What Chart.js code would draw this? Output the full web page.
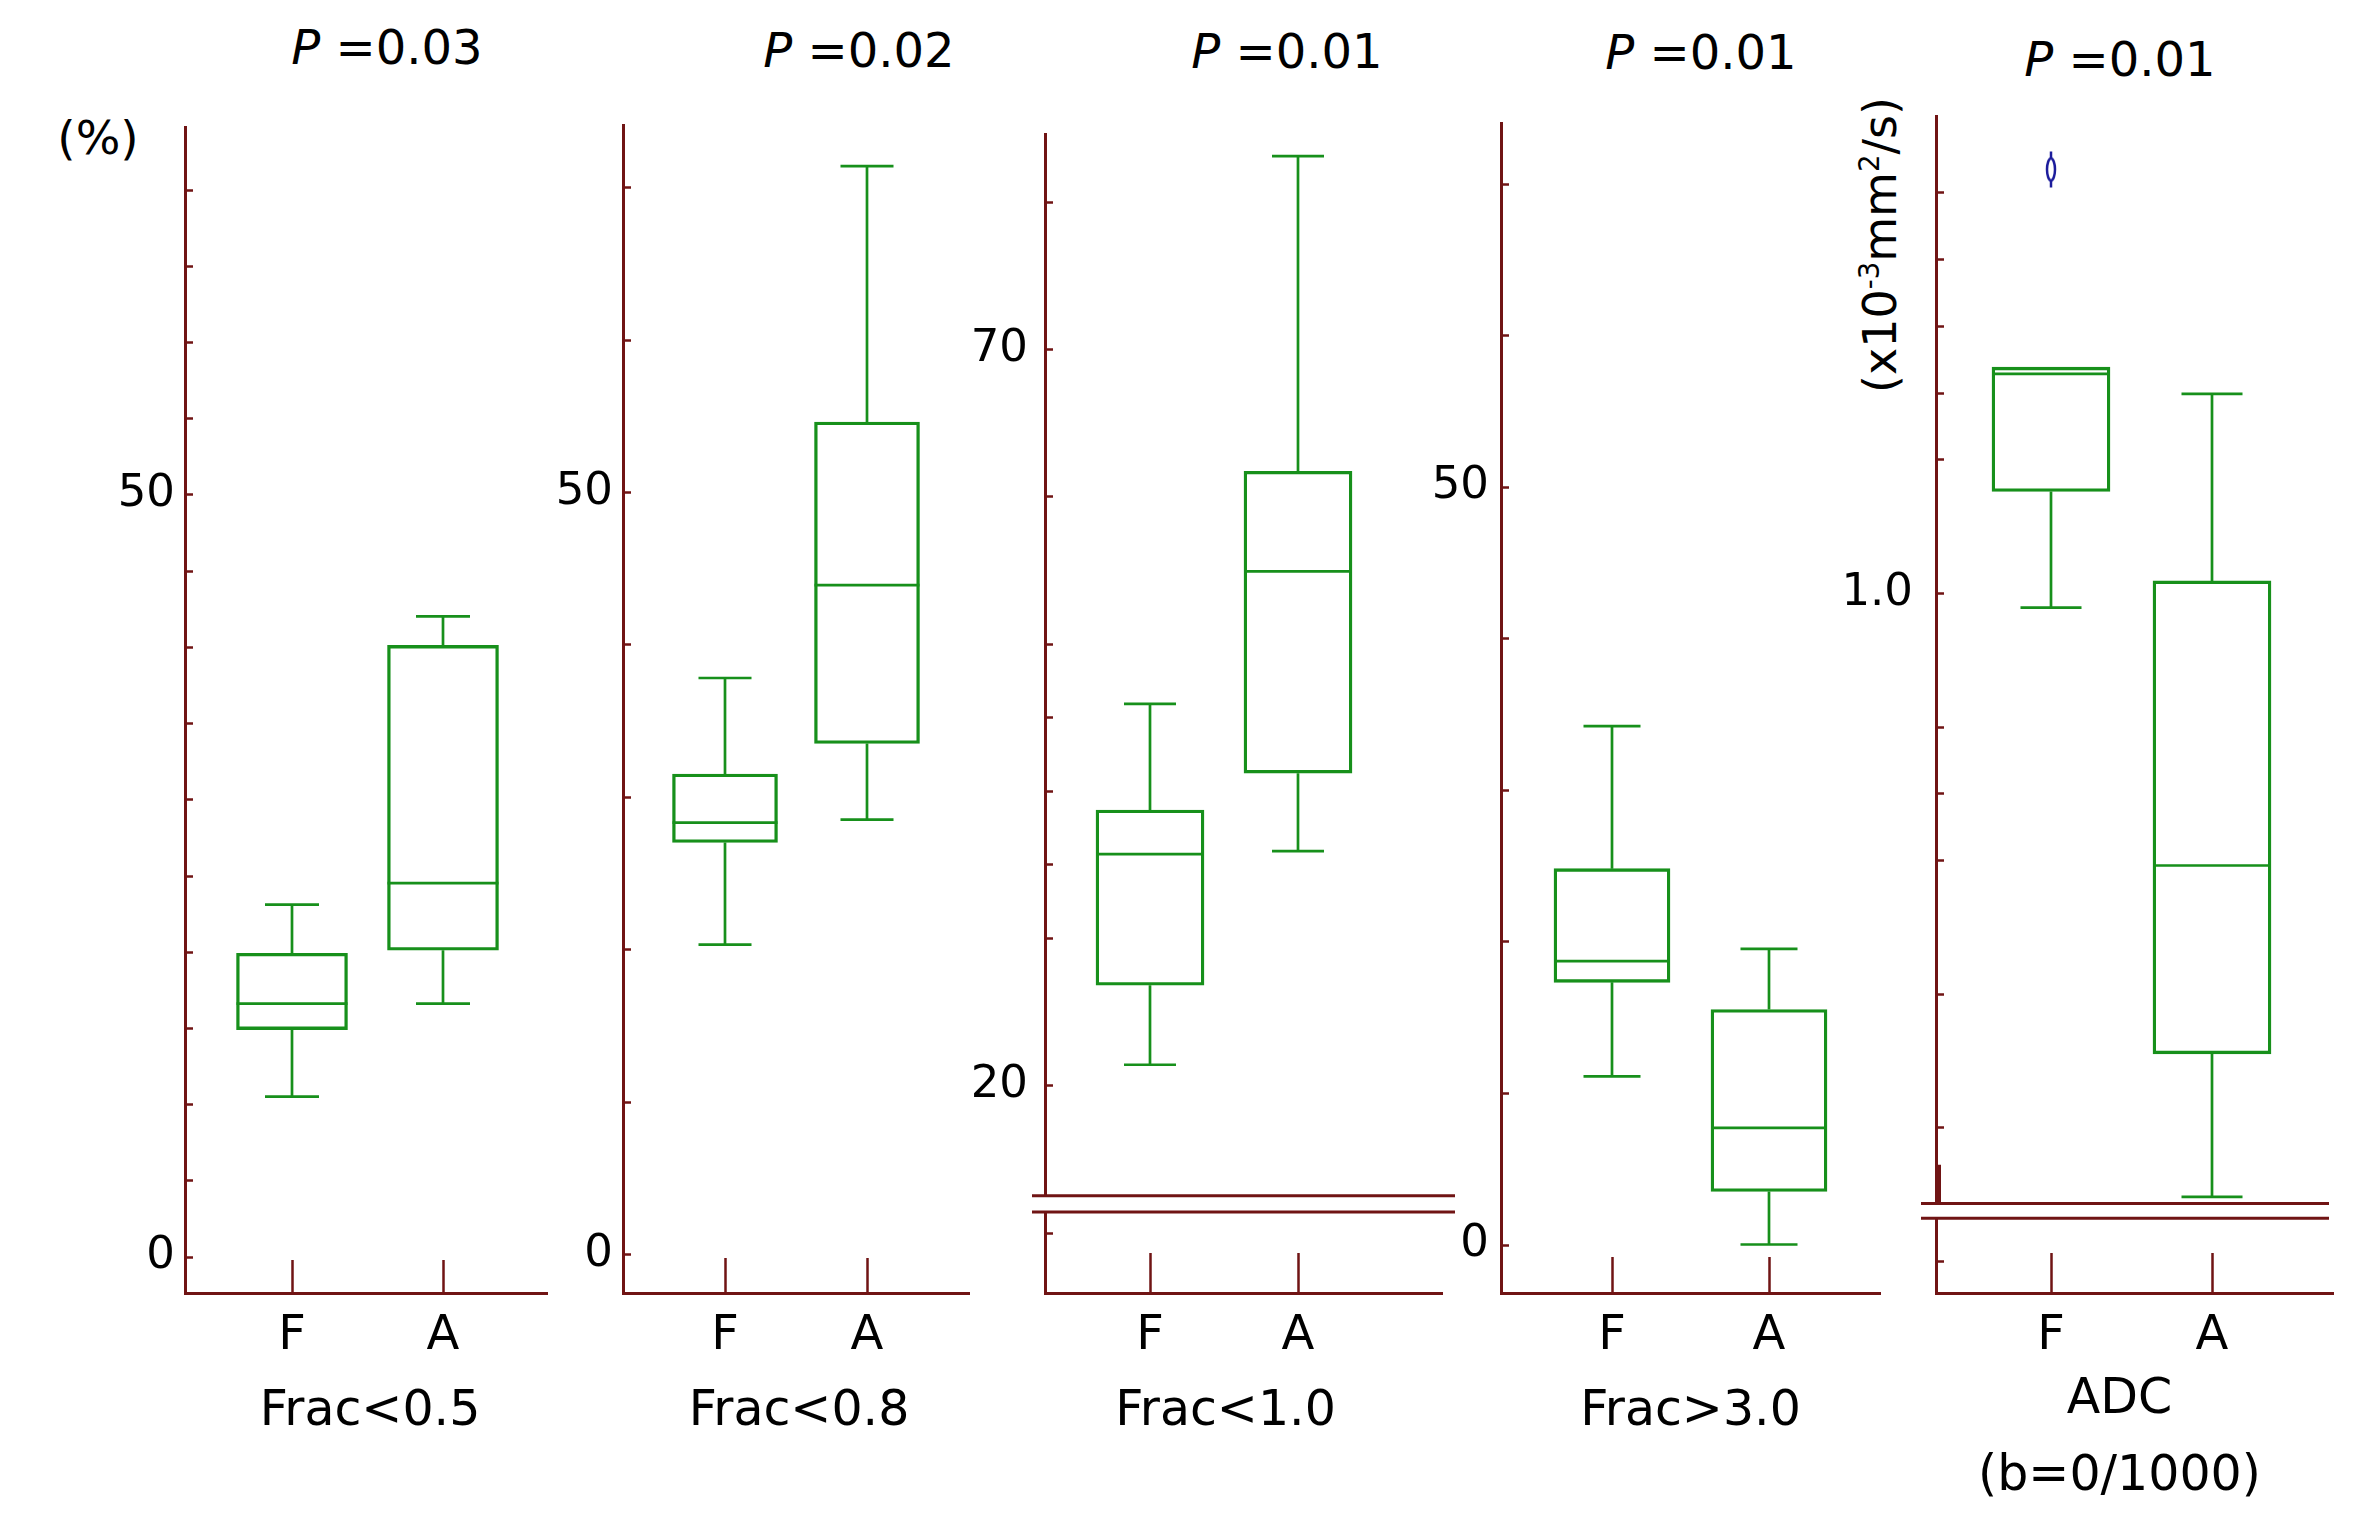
<!DOCTYPE html>
<html>
<head>
<meta charset="utf-8">
<script src="https://cdn.jsdelivr.net/npm/chart.js@4.4.0/dist/chart.umd.min.js"></script>
<style>
html, body { margin: 0; padding: 0; background: #fff; }
#wrap { position: relative; width: 2362px; height: 1531px; overflow: hidden;
        font-family: "DejaVu Sans", Verdana, sans-serif; color: #000; }
#wrap canvas { position: absolute; top: 0; }
.lbl { position: absolute; font-size: 48px; line-height: 1; white-space: nowrap;
       transform: translate(-50%, -50%); }
.rot { transform: translate(-50%, -50%) rotate(-90deg); font-size: 46px; }
.rot sup { font-size: 0.6em; vertical-align: 0.6em; line-height: 0; }
</style>
</head>
<body>
<div id="wrap">
  <div class="lbl" style="left:387px;top:47px"><i>P</i> =0.03</div>
  <div class="lbl" style="left:859px;top:50px"><i>P</i> =0.02</div>
  <div class="lbl" style="left:1287px;top:51px"><i>P</i> =0.01</div>
  <div class="lbl" style="left:1701px;top:52px"><i>P</i> =0.01</div>
  <div class="lbl" style="left:2120px;top:59px"><i>P</i> =0.01</div>
  <div class="lbl" style="left:98px;top:137px;font-size:47px">(%)</div>
  <div class="lbl rot" style="left:1880px;top:245px">(x10<sup>-3</sup>mm<sup>2</sup>/s)</div>
</div>
<script>
// groups on every x axis
const groups = ['F', 'A'];
const panelTitles = ['Frac<0.5', 'Frac<0.8', 'Frac<1.0', 'Frac>3.0', ['ADC', '(b=0/1000)']];

// box stats: [min, Q1, median, Q3, max]
const frac05F = [10.5, 14.9, 16.6, 19.9, 23.1];
const frac05A = [16.6, 20.1, 24.5, 40.1, 42.0];
const frac08F = [20.3, 27.0, 28.3, 31.5, 37.8];
const frac08A = [28.5, 33.5, 43.9, 54.6, 71.4];
const frac10F = [21.4, 26.8, 35.7, 38.7, 45.9];
const frac10A = [35.9, 41.2, 54.9, 61.7, 83.1];
const frac30F = [11.1, 17.3, 18.7, 24.8, 34.2];
const frac30A = [0.0, 3.5, 7.7, 15.5, 19.5];
const adcF = [0.989, 1.076, 1.164, 1.169, 1.169];
const adcA = [0.548, 0.655, 0.796, 1.009, 1.149];
const adcOutliersF = [1.317];

// y ticks and the ones that carry a label
const ticks05 = [0, 5, 10, 15, 20, 25, 30, 35, 40, 45, 50, 55, 60, 65, 70];
const labels05 = ['0', '50'];
const ticks08 = [0, 10, 20, 30, 40, 50, 60, 70];
const labels08 = ['0', '50'];
const ticks10 = [10, 20, 30, 35, 40, 45, 50, 60, 70, 80];
const labels10 = ['20', '70'];
const ticks30 = [0, 10, 20, 30, 40, 50, 60, 70];
const labels30 = ['0', '50'];
const ticksAdc = [0.5, 0.6, 0.7, 0.8, 0.85, 0.9, 1.0, 1.1, 1.15, 1.2, 1.25, 1.3];
const labelsAdc = ['1.0'];

const AXIS = '#701414';
const GREEN = '#17901b';
const FONT = '"DejaVu Sans", Verdana, sans-serif';

const panels = [
  { stats: [frac05F, frac05A], out: [[], []], ticks: ticks05, labels: labels05, yMin: -2.38, yMax: 74.1,
    axisX: 185, right: 547, top: 127, fx: 292, ax: 443, box: 111, cap: 54, lblPad: 10, xTick: 33,
    titleShift: 4, breaks: null },
  { stats: [frac08F, frac08A], out: [[], []], ticks: ticks08, labels: labels08, yMin: -2.57, yMax: 74.1,
    axisX: 623, right: 969, top: 125, fx: 725, ax: 867, box: 105, cap: 53, lblPad: 10, xTick: 35,
    titleShift: 3, breaks: null },
  { stats: [frac10F, frac10A], out: [[], []], ticks: ticks10, labels: labels10, yMin: 5.9, yMax: 84.6,
    axisX: 1045, right: 1442, top: 134, fx: 1150, ax: 1298, box: 108, cap: 52, lblPad: 17, xTick: 40,
    titleShift: -18, breaks: [12.5, 11.4], breakL: 13, breakR: 13 },
  { stats: [frac30F, frac30A], out: [[], []], ticks: ticks30, labels: labels30, yMin: -3.2, yMax: 74.0,
    axisX: 1501, right: 1880, top: 123, fx: 1612, ax: 1769, box: 116, cap: 57, lblPad: 12, xTick: 36,
    titleShift: 0, breaks: null },
  { stats: [adcF, adcA], out: [adcOutliersF, []], ticks: ticksAdc, labels: labelsAdc, yMin: 0.476, yMax: 1.357,
    axisX: 1936, right: 2333, top: 116, fx: 2051, ax: 2212, box: 118, cap: 61, lblPad: 23, xTick: 40,
    titleShift: -15, breaks: [0.543, 0.532], breakL: 15, breakR: -4, stub: 0.572 }
];

const Y_W = 110;      // width kept for the y tick labels
const X_H = 238;      // height below the x axis line
const PAD_R = 20;

function outlierGlyph() {
  const c = document.createElement('canvas');
  c.width = 14; c.height = 40;
  const g = c.getContext('2d');
  g.strokeStyle = '#1c1c9c';
  g.lineWidth = 2.5;
  g.beginPath(); g.ellipse(7, 20, 4, 11, 0, 0, Math.PI * 2); g.stroke();
  g.beginPath(); g.moveTo(7, 2); g.lineTo(7, 9); g.moveTo(7, 31); g.lineTo(7, 38); g.stroke();
  return c;
}
const glyph = outlierGlyph();

// whiskers, medians, inward ticks, axis breaks and the x titles
const boxParts = {
  id: 'boxParts',
  afterDatasetsDraw(chart) {
    const p = chart.options.plugins.boxParts;
    const ys = chart.scales.y;
    const bars = chart.getDatasetMeta(0).data;
    const ctx = chart.ctx;
    ctx.save();
    ctx.strokeStyle = GREEN;
    ctx.lineWidth = 2.7;
    ctx.beginPath();
    p.stats.forEach((s, i) => {
      const bar = bars[i];
      const cx = bar.x, hw = bar.width / 2, hc = p.cap / 2;
      const yMed = ys.getPixelForValue(s[2]);
      ctx.moveTo(cx - hw, yMed); ctx.lineTo(cx + hw, yMed);
      if (s[4] > s[3]) {
        const y3 = ys.getPixelForValue(s[3]), y4 = ys.getPixelForValue(s[4]);
        ctx.moveTo(cx, y3); ctx.lineTo(cx, y4);
        ctx.moveTo(cx - hc, y4); ctx.lineTo(cx + hc, y4);
      }
      if (s[0] < s[1]) {
        const y1 = ys.getPixelForValue(s[1]), y0 = ys.getPixelForValue(s[0]);
        ctx.moveTo(cx, y1); ctx.lineTo(cx, y0);
        ctx.moveTo(cx - hc, y0); ctx.lineTo(cx + hc, y0);
      }
    });
    ctx.stroke();
    ctx.restore();
  },
  afterDraw(chart) {
    const p = chart.options.plugins.boxParts;
    const {ctx, chartArea: a} = chart;
    const xs = chart.scales.x, ys = chart.scales.y;
    ctx.save();
    ctx.strokeStyle = AXIS;
    ctx.lineWidth = 2.5;
    ctx.beginPath();
    ys.ticks.forEach(t => {
      const py = Math.round(ys.getPixelForValue(t.value)) + 0.5;
      ctx.moveTo(a.left, py); ctx.lineTo(a.left + 8, py);
    });
    xs.ticks.forEach(t => {
      const px = Math.round(xs.getPixelForValue(t.value)) + 0.5;
      ctx.moveTo(px, a.bottom); ctx.lineTo(px, a.bottom - p.xTick);
    });
    ctx.stroke();
    if (p.breaks) {
      const y1 = ys.getPixelForValue(p.breaks[0]);
      const y2 = ys.getPixelForValue(p.breaks[1]);
      ctx.fillStyle = '#fff';
      ctx.fillRect(a.left - 4, y1, 8, y2 - y1);
      ctx.lineWidth = 3;
      ctx.beginPath();
      ctx.moveTo(a.left - p.breakL, y1); ctx.lineTo(a.right + p.breakR, y1);
      ctx.moveTo(a.left - p.breakL, y2); ctx.lineTo(a.right + p.breakR, y2);
      ctx.stroke();
      if (p.stub) {
        ctx.lineWidth = 4;
        ctx.beginPath();
        ctx.moveTo(a.left + 3, ys.getPixelForValue(p.stub));
        ctx.lineTo(a.left + 3, y1);
        ctx.stroke();
      }
    }
    // x title under the group labels
    const lines = Array.isArray(p.title) ? p.title : [p.title];
    const cx = (a.left + a.right) / 2 + p.titleShift;
    ctx.fillStyle = '#000';
    ctx.font = '49px ' + FONT;
    ctx.textAlign = 'center';
    ctx.textBaseline = 'middle';
    if (lines.length === 1) {
      ctx.fillText(lines[0], cx, 1412);
    } else {
      ctx.fillText(lines[0], cx, 1400);
      ctx.fillText(lines[1], cx, 1477);
    }
    ctx.restore();
  }
};

const wrap = document.getElementById('wrap');

panels.forEach((g, k) => {
  const left = g.axisX - Y_W;
  const width = g.right - left + PAD_R;
  const canvas = document.createElement('canvas');
  canvas.width = width;
  canvas.height = 1531;
  canvas.style.left = left + 'px';
  canvas.style.width = width + 'px';
  canvas.style.height = '1531px';
  wrap.appendChild(canvas);

  const unit = g.ax - g.fx;
  const xMin = 1 - (g.fx - g.axisX) / unit;
  const xMax = xMin + (g.right - g.axisX) / unit;

  const datasets = [{
    type: 'bar',
    data: g.stats.map((s, i) => ({ x: i + 1, y: [s[1], s[3]] })),
    backgroundColor: 'rgba(0,0,0,0)',
    borderColor: GREEN,
    borderWidth: 2.7,
    borderSkipped: false,
    barThickness: g.box
  }];
  const outPts = [];
  g.out.forEach((list, i) => list.forEach(v => outPts.push({ x: i + 1, y: v })));
  if (outPts.length) {
    datasets.push({
      type: 'line',
      data: outPts,
      showLine: false,
      pointStyle: glyph,
      pointRadius: 10,
      borderColor: '#1c1c9c'
    });
  }

  new Chart(canvas.getContext('2d'), {
    type: 'bar',
    data: { datasets: datasets },
    plugins: [boxParts],
    options: {
      responsive: false,
      devicePixelRatio: 1,
      animation: false,
      layout: { padding: { top: g.top, left: 0, right: PAD_R, bottom: 0 } },
      plugins: {
        legend: { display: false },
        tooltip: { enabled: false },
        boxParts: { stats: g.stats, cap: g.cap, xTick: g.xTick, breaks: g.breaks,
                    breakL: g.breakL, breakR: g.breakR, stub: g.stub,
                    title: panelTitles[k], titleShift: g.titleShift }
      },
      scales: {
        x: {
          type: 'linear',
          bounds: 'data',
          offset: false,
          min: xMin,
          max: xMax,
          afterBuildTicks: axis => { axis.ticks = groups.map((_, i) => ({ value: i + 1 })); },
          afterFit: axis => { axis.height = X_H; },
          ticks: {
            autoSkip: false,
            maxRotation: 0,
            padding: 15,
            color: '#000',
            font: { family: FONT, size: 48 },
            callback: v => groups[v - 1] || ''
          },
          grid: { display: false, drawTicks: false, offset: false },
          border: { display: true, color: AXIS, width: 3 },
          title: { display: false }
        },
        y: {
          type: 'linear',
          bounds: 'data',
          min: g.yMin,
          max: g.yMax,
          afterBuildTicks: axis => { axis.ticks = g.ticks.map(v => ({ value: v })); },
          afterFit: axis => { axis.width = Y_W; },
          ticks: {
            autoSkip: false,
            padding: g.lblPad,
            color: '#000',
            font: { family: FONT, size: 45 },
            callback: v => g.labels.find(s => Math.abs(parseFloat(s) - v) < 1e-9) || ''
          },
          grid: { display: false, drawTicks: false },
          border: { display: true, color: AXIS, width: 3 }
        }
      }
    }
  });
});
</script>
</body>
</html>
